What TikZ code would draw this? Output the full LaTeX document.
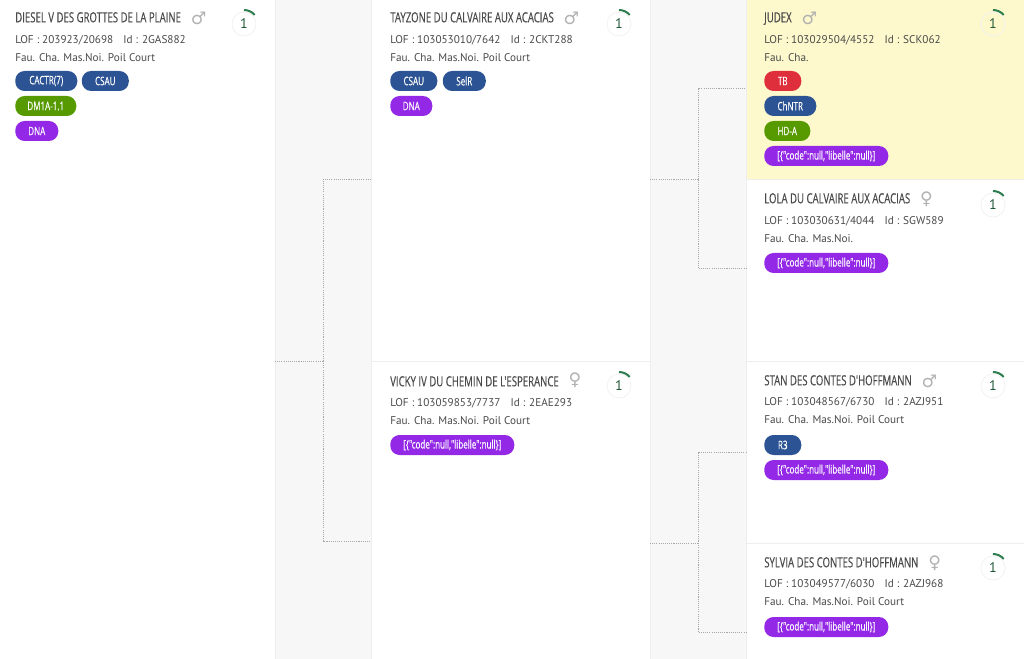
\documentclass[tikz,border=0pt]{standalone}
\usepackage{fontspec}
\setmainfont{PT Sans}
\newfontfamily\titlefont[FakeStretch=0.685,FakeBold=0.25]{Open Sans}
\newfontfamily\symbolfont{DejaVu Sans}
\usetikzlibrary{positioning}
\definecolor{pagegray}{HTML}{F7F7F7}
\definecolor{edgegray}{HTML}{EEEEEE}
\definecolor{linkgray}{HTML}{A8A8A8}
\definecolor{cream}{HTML}{FDF9CC}
\definecolor{inktext}{HTML}{4A4A4A}
\definecolor{chipblue}{HTML}{2C5494}
\definecolor{chipgreen}{HTML}{569A00}
\definecolor{chippurple}{HTML}{9328E6}
\definecolor{chipred}{HTML}{E02F3C}
\definecolor{ringgreen}{HTML}{2E7D4F}
\tikzset{
  card/.style={rectangle,fill=white,draw=edgegray,line width=.75pt,minimum width=209.25pt,inner sep=0pt,outer sep=0pt},
  dogname/.style={inner sep=0pt,text=inktext,font=\titlefont\fontsize{10.5pt}{12pt}\selectfont,text height=7.5pt,text depth=1pt},
  doginfo/.style={inner sep=0pt,text=inktext,font=\fontsize{8.4pt}{10pt}\selectfont,text height=6.5pt,text depth=1.5pt},
  sex/.style={inner sep=0pt,text=gray!60,font=\symbolfont\fontsize{13pt}{13pt}\selectfont},
  chip/.style={rectangle,rounded corners=7pt,fill=#1,text=white,inner sep=0pt,minimum height=15pt,
    font=\titlefont\fontsize{8.8pt}{10pt}\selectfont},
  ring/.style={circle,draw=gray!10,line width=.6pt,minimum size=18pt,inner sep=0pt,text=ringgreen!70!black,
    font=\fontsize{10.5pt}{11pt}\selectfont},
  link/.style={draw=linkgray,line width=.75pt,dash pattern=on .8pt off .8pt},
}
\newcommand{\nullcode}{[\{"code":null,"libelle":null\}]}
\newcommand{\idgap}{\hspace{7.5pt}}
\begin{document}
\begin{tikzpicture}[x=.75pt,y=-.75pt]
  \clip (0,0) rectangle (1024,659);
  \fill [pagegray] (0,0) rectangle (1024,659);

  % cards
  \node [card,anchor=north west,minimum width=207.75pt,minimum height=544.5pt] (ca) at (-2,-2) {};
  \node [card,anchor=north west,minimum height=272.25pt] (cb) at (371,-2) {};
  \node [card,below=0pt of cb,minimum height=270pt] (cc) {};
  \node [card,anchor=north west,fill=cream,minimum height=136.5pt] (cd) at (746,-2) {};
  \node [card,below=0pt of cd,minimum height=135.75pt] (ce) {};
  \node [card,below=0pt of ce,minimum height=136.5pt] (cf) {};
  \node [card,below=0pt of cf,minimum height=133.5pt] (cg) {};

  % links
  \coordinate [right=36pt of ca.east] (j1);
  \coordinate [right=36pt of cb.east] (j2);
  \coordinate [right=36pt of cc.east] (j3);
  \draw [link] (ca.east) -- (j1);
  \draw [link] (j1) |- (cb.west);
  \draw [link] (j1) |- (cc.west);
  \draw [link] (cb.east) -- (j2);
  \draw [link] (j2) |- (cd.west);
  \draw [link] (j2) |- ([yshift=1.6pt]ce.west);
  \draw [link] ([yshift=-1.5pt]cc.east) -- ([yshift=-1.5pt]j3);
  \draw [link] (j3) |- (cf.west);
  \draw [link] (j3) |- (cg.west);

  % rings
  \foreach \n/\x/\y in {a/244/24,b/619/24,c/619/386,d/993/24,e/993/205,f/993/386,g/993/568} {
    \node [ring] (r\n) at (\x,\y) {1};
    \draw [ringgreen,line width=1.5pt] (r\n.center) ++(90:10.5pt) arc [start angle=90,end angle=40,radius=10.5pt];
  }

  % first generation
  \node [dogname,anchor=west] (na) at (15,18) {DIESEL V DES GROTTES DE LA PLAINE};
  \node [sex,right=7pt of na] (sa) {♂};
  \node [doginfo,below=16.5pt of na.west,anchor=west] (la) {LOF : 203923/20698\idgap Id : 2GAS882};
  \node [doginfo,below=13.5pt of la.west,anchor=west] (ta) {Fau. Cha. Mas.Noi. Poil Court};
  \node [chip=chipblue,minimum width=46.5pt,below=17.25pt of ta.west,anchor=west] (a1) {CACTR(7)};
  \node [chip=chipblue,minimum width=35.25pt,right=3pt of a1] (a2) {CSAU};
  \node [chip=chipgreen,minimum width=45.75pt,below=18.75pt of a1.west,anchor=west] (a3) {DM1A-1.1};
  \node [chip=chippurple,minimum width=32.25pt,below=18.75pt of a3.west,anchor=west] (a4) {DNA};

  % second generation
  \node [dogname,anchor=west] (nb) at (390,18) {TAYZONE DU CALVAIRE AUX ACACIAS};
  \node [sex,right=7pt of nb] (sb) {♂};
  \node [doginfo,below=16.5pt of nb.west,anchor=west] (lb) {LOF : 103053010/7642\idgap Id : 2CKT288};
  \node [doginfo,below=13.5pt of lb.west,anchor=west] (tb) {Fau. Cha. Mas.Noi. Poil Court};
  \node [chip=chipblue,minimum width=35.25pt,below=17.25pt of tb.west,anchor=west] (b1) {CSAU};
  \node [chip=chipblue,minimum width=32.25pt,right=3.75pt of b1] (b2) {SelR};
  \node [chip=chippurple,minimum width=31.5pt,below=18.75pt of b1.west,anchor=west] (b3) {DNA};

  \node [dogname,anchor=west] (nc) at (390,382) {VICKY IV DU CHEMIN DE L'ESPERANCE};
  \node [sex,right=7pt of nc,yshift=1.5pt] (sc) {♀};
  \node [doginfo,below=15.75pt of nc.west,anchor=west] (lc) {LOF : 103059853/7737\idgap Id : 2EAE293};
  \node [doginfo,below=13.5pt of lc.west,anchor=west] (tc) {Fau. Cha. Mas.Noi. Poil Court};
  \node [chip=chippurple,minimum width=93pt,below=18pt of tc.west,anchor=west] (c1) {\nullcode};

  % third generation
  \node [dogname,anchor=west] (nd) at (764,18) {JUDEX};
  \node [sex,right=7pt of nd] (sd) {♂};
  \node [doginfo,below=16.5pt of nd.west,anchor=west] (ld) {LOF : 103029504/4552\idgap Id : SCK062};
  \node [doginfo,below=13.5pt of ld.west,anchor=west] (td) {Fau. Cha.};
  \node [chip=chipred,minimum width=27.75pt,below=17.25pt of td.west,anchor=west] (d1) {TB};
  \node [chip=chipblue,minimum width=39pt,below=18.75pt of d1.west,anchor=west] (d2) {ChNTR};
  \node [chip=chipgreen,minimum width=34.5pt,below=18.75pt of d2.west,anchor=west] (d3) {HD-A};
  \node [chip=chippurple,minimum width=93pt,below=18.75pt of d3.west,anchor=west] (d4) {\nullcode};

  \node [dogname,anchor=west] (ne) at (764,199) {LOLA DU CALVAIRE AUX ACACIAS};
  \node [sex,right=7pt of ne] (se) {♀};
  \node [doginfo,below=16.5pt of ne.west,anchor=west] (le) {LOF : 103030631/4044\idgap Id : SGW589};
  \node [doginfo,below=13.5pt of le.west,anchor=west] (te) {Fau. Cha. Mas.Noi.};
  \node [chip=chippurple,minimum width=93pt,below=18pt of te.west,anchor=west] (e1) {\nullcode};

  \node [dogname,anchor=west] (nf) at (764,381) {STAN DES CONTES D'HOFFMANN};
  \node [sex,right=7pt of nf] (sf) {♂};
  \node [doginfo,below=15.75pt of nf.west,anchor=west] (lf) {LOF : 103048567/6730\idgap Id : 2AZJ951};
  \node [doginfo,below=13.5pt of lf.west,anchor=west] (tf) {Fau. Cha. Mas.Noi. Poil Court};
  \node [chip=chipblue,minimum width=27.75pt,below=18.75pt of tf.west,anchor=west] (f1) {R3};
  \node [chip=chippurple,minimum width=93pt,below=18.75pt of f1.west,anchor=west] (f2) {\nullcode};

  \node [dogname,anchor=west] (ng) at (764,563) {SYLVIA DES CONTES D'HOFFMANN};
  \node [sex,right=7pt of ng] (sg) {♀};
  \node [doginfo,below=15.75pt of ng.west,anchor=west] (lg) {LOF : 103049577/6030\idgap Id : 2AZJ968};
  \node [doginfo,below=13.5pt of lg.west,anchor=west] (tg) {Fau. Cha. Mas.Noi. Poil Court};
  \node [chip=chippurple,minimum width=93pt,below=18.75pt of tg.west,anchor=west] (g1) {\nullcode};
\end{tikzpicture}
\end{document}
